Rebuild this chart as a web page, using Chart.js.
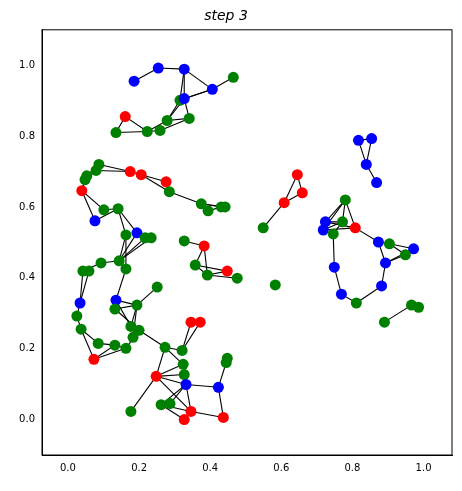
<!DOCTYPE html>
<html><head>
<script src="https://cdn.jsdelivr.net/npm/chart.js@4/dist/chart.umd.min.js"></script>
<style>body{margin:0;background:#fff}#wrap{width:462px;height:491px}</style>
</head><body>
<div id="wrap"><canvas id="myChart"></canvas></div>
<script>
// node positions and colours (r/g/b)
const nodeX = [0.186,0.254,0.327,0.465,0.406,0.315,0.327,0.161,0.279,0.341,0.135,0.223,0.259,
  0.087,0.079,0.053,0.048,0.175,0.206,0.276,0.285,0.039,0.375,0.394,0.431,0.442,0.101,0.141,0.076,
  0.194,0.163,0.217,0.234,0.327,0.383,0.358,0.392,0.448,0.476,0.093,0.144,0.163,0.042,0.059,0.251,
  0.034,0.135,0.132,0.194,0.025,0.037,0.177,0.2,0.183,0.085,0.132,0.163,0.073,0.346,0.372,0.273,
  0.321,0.324,0.327,0.248,0.332,0.423,0.445,0.448,0.177,0.262,0.287,0.346,0.327,0.437,
  0.645,0.659,0.608,0.549,0.817,0.854,0.839,0.868,0.78,0.724,0.718,0.746,0.772,0.808,0.583,
  0.873,0.904,0.972,0.949,0.893,0.749,0.882,0.769,0.811,0.966,0.986,0.89];
const nodeY = [0.955,0.992,0.989,0.966,0.932,0.901,0.906,0.855,0.844,0.85,0.81,0.813,0.816,
  0.72,0.703,0.688,0.677,0.7,0.691,0.671,0.643,0.646,0.609,0.589,0.6,0.6,0.592,0.595,0.561,
  0.527,0.521,0.513,0.513,0.504,0.49,0.436,0.408,0.419,0.399,0.442,0.448,0.425,0.419,0.419,0.374,
  0.329,0.337,0.312,0.323,0.292,0.255,0.263,0.252,0.232,0.215,0.21,0.201,0.17,0.275,0.275,0.204,
  0.195,0.156,0.127,0.122,0.099,0.091,0.161,0.173,0.023,0.042,0.045,0.023,0.0,0.006,
  0.691,0.64,0.612,0.541,0.788,0.793,0.72,0.669,0.62,0.558,0.535,0.524,0.558,0.541,0.38,
  0.501,0.496,0.482,0.465,0.442,0.43,0.377,0.354,0.329,0.323,0.317,0.275];
const nodeGroup = 'bbbgbgbrggggg'+'ggggrrrgrggggggb'+'bggggrggrgggggggbbggggggggggrrrggggrbbgggggrr'+'rrrrgbbbbgbbggrgbgbgbbbbggg';
const edges = [[0,1],[1,2],[2,6],[2,5],[2,4],[4,3],[4,6],[4,5],[5,8],[6,9],[6,8],[8,11],[8,9],[12,9],[7,10],[7,11],[10,11],[11,12],
  [13,17],[14,17],[13,15],[14,16],[15,21],[16,21],[17,18],[18,19],[18,20],[20,22],[22,25],[22,24],[23,24],[21,26],[21,28],[26,27],[27,28],
  [27,30],[27,29],[30,40],[29,40],[30,41],[31,40],[32,40],[40,39],[39,42],[41,46],[42,45],[43,45],[42,43],[45,49],[49,50],[50,54],[50,57],
  [57,55],[57,56],[54,55],[55,56],[56,52],[46,48],[47,48],[46,51],[47,52],[48,51],[48,53],[44,48],[52,60],[60,61],[61,58],[61,59],
  [60,62],[60,64],[64,63],[64,62],[64,65],[65,66],[66,74],[65,72],[64,72],[64,69],[70,65],[71,65],[70,72],[72,74],[66,67],[67,68],[63,65],[70,73],
  [33,34],[34,35],[34,36],[35,36],[35,37],[36,38],[36,37],
  [75,76],[75,77],[76,77],[77,78],[79,80],[79,81],[80,81],[81,82],[83,84],[83,85],[83,87],[83,88],[84,87],[85,87],[84,88],[85,88],[86,87],
  [88,90],[90,94],[90,91],[91,92],[91,93],[94,93],[94,92],[94,96],[96,98],[98,97],[97,95],[95,86],[99,101],[100,99]];
const tickVals = [0.0,0.2,0.4,0.6,0.8,1.0];
const colorMap = {r:'red', g:'green', b:'blue'};

const datasets = edges.map(e => ({
  data: [{x:nodeX[e[0]], y:nodeY[e[0]]}, {x:nodeX[e[1]], y:nodeY[e[1]]}],
  showLine: true, borderColor: 'black', borderWidth: 1.1, pointRadius: 0, order: 2
}));
datasets.push({
  data: nodeX.map((x,i) => ({x:x, y:nodeY[i]})),
  pointRadius: 5.5, pointHoverRadius: 5.5, borderWidth: 0,
  pointBackgroundColor: nodeX.map((x,i) => colorMap[nodeGroup[i]]), order: 1
});

const ticks = {font:{family:'DejaVu Sans', size:10}, color:'#000', autoSkip:false,
  callback: v => v.toFixed(1)};
const ctx = document.getElementById('myChart');
const myChart = new Chart(ctx, {
  type: 'scatter',
  data: { datasets: datasets },
  options: {
    responsive: true, maintainAspectRatio: false, animation: false,
    layout: { padding: {top: 0, right: 10, bottom: 0, left: 0} },
    plugins: {
      legend: {display: false}, tooltip: {enabled: false},
      title: {display: true, text: 'step 3', color: '#000',
        font: {family:'DejaVu Sans', size: 14, style: 'italic', weight: 'normal'}, padding: {top: 8, bottom: 5}}
    },
    scales: {
      x: { min: -0.073, max: 1.08, grid: {display: false, drawTicks: true, tickLength: 4},
        border: {color:'#000'},
        afterBuildTicks: a => { a.ticks = tickVals.map(v => ({value: v})); },
        afterFit: a => { a.height = 36; }, ticks: ticks },
      y: { min: -0.1, max: 1.1, grid: {display: false, tickLength: 4},
        border: {color:'#000'},
        afterBuildTicks: a => { a.ticks = tickVals.map(v => ({value: v})); },
        afterFit: a => { a.width = 42; }, ticks: ticks }
    }
  },
  plugins: [{
    id: 'frame',
    afterDraw(c) {
      const a = c.chartArea, g = c.ctx;
      g.save(); g.strokeStyle = '#000'; g.lineWidth = 1;
      g.strokeRect(a.left, a.top, a.right - a.left, a.bottom - a.top);
      g.restore();
    }
  }]
});
</script>
</body></html>
